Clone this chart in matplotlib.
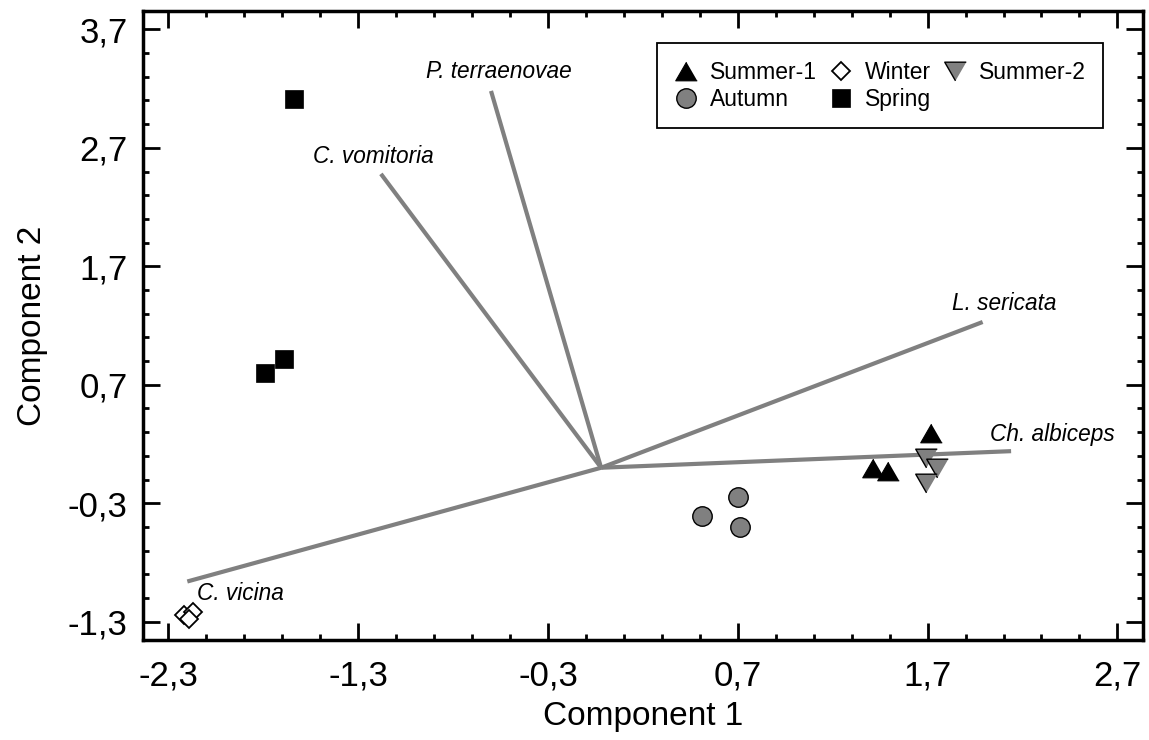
import matplotlib
matplotlib.use("Agg")
import matplotlib.pyplot as plt
import numpy as np
from matplotlib.ticker import FixedLocator

plt.rcParams["font.family"] = ["Liberation Sans", "DejaVu Sans"]

# sample scores per season
summer1_x = [1.72, 1.41, 1.49]
summer1_y = [0.29, 0.00, -0.03]
summer2_x = [1.69, 1.75, 1.69]
summer2_y = [0.08, -0.005, -0.13]
autumn_x = [0.70, 0.51, 0.71]
autumn_y = [-0.25, -0.41, -0.50]
winter_x = [-2.22, -2.17, -2.19]
winter_y = [-1.24, -1.22, -1.28]
spring_x = [-1.64, -1.69, -1.79]
spring_y = [3.11, 0.92, 0.80]

# species loadings (biplot vectors)
species = ["P. terraenovae", "C. vomitoria", "L. sericata", "Ch. albiceps", "C. vicina"]
origin = (-0.02, 0.0)
load_x = [-0.60, -1.18, 1.99, 2.14, -2.20]
load_y = [3.18, 2.48, 1.23, 0.14, -0.96]

# where the species names sit (left edge, middle)
label_x = [-0.94, -1.54, 1.83, 2.03, -2.15]
label_y = [3.34, 2.63, 1.39, 0.28, -1.06]

ticks = [-2.3, -1.3, -0.3, 0.7, 1.7, 2.7]
yticks = [-1.3, -0.3, 0.7, 1.7, 2.7, 3.7]

gray = "#808080"

fig = plt.figure(figsize=(11.49, 7.40), dpi=100)
ax = fig.add_axes([0.1242, 0.1351, 0.8706, 0.8504])

for sx, sy in zip(load_x, load_y):
    ax.plot([origin[0], sx], [origin[1], sy], color=gray, lw=3, zorder=1, solid_capstyle="butt")
for name, lx, ly in zip(species, label_x, label_y):
    ax.text(lx, ly, name, style="italic", fontsize=16.3, ha="left", va="center")

tri_up = [(0, 0.866), (-1, -0.866), (1, -0.866)]
tri_down = [(0, -0.866), (-1, 0.866), (1, 0.866)]

h_s1, = ax.plot(summer1_x, summer1_y, ls="none", marker=tri_up, ms=15.5, mfc="black", mec="black", mew=0.8, label="Summer-1")
h_au, = ax.plot(autumn_x, autumn_y, ls="none", marker="o", ms=14, mfc=gray, mec="black", mew=1, label="Autumn")
h_wi, = ax.plot(winter_x, winter_y, ls="none", marker="D", ms=9, mfc="white", mec="black", mew=1.3, label="Winter")
h_sp, = ax.plot(spring_x, spring_y, ls="none", marker="s", ms=13.5, mfc="black", mec="black", mew=0.5, label="Spring")
h_s2, = ax.plot(summer2_x, summer2_y, ls="none", marker=tri_down, ms=15.5, mfc=gray, mec="black", mew=1, label="Summer-2")

leg = ax.legend(handles=[h_s1, h_au, h_wi, h_sp, h_s2], ncol=3, loc="upper right",
                bbox_to_anchor=(0.960, 0.948), fontsize=16.5, frameon=True, fancybox=False,
                edgecolor="black", framealpha=1, handlelength=1.0, handletextpad=0.55,
                columnspacing=0.55, labelspacing=0.2, borderpad=0.75, borderaxespad=0)
leg.get_frame().set_linewidth(1.3)

ax.set_xlim(-2.435, 2.835)
ax.set_ylim(-1.454, 3.857)

ax.xaxis.set_major_locator(FixedLocator(ticks))
ax.yaxis.set_major_locator(FixedLocator(yticks))
ax.xaxis.set_minor_locator(FixedLocator(np.round(np.arange(-2.3, 2.8, 0.2), 2)))
ax.yaxis.set_minor_locator(FixedLocator(np.round(np.arange(-1.3, 3.8, 0.2), 2)))
ax.set_xticklabels([f"{t:.1f}".replace(".", ",") for t in ticks])
ax.set_yticklabels([f"{t:.1f}".replace(".", ",") for t in yticks])

ax.tick_params(which="both", direction="in", top=True, right=True, width=2, labelsize=25)
ax.tick_params(which="major", length=12)
ax.tick_params(axis="x", which="major", pad=14)
ax.tick_params(axis="y", which="major", pad=11)
ax.tick_params(which="minor", length=4.5)
for sp in ax.spines.values():
    sp.set_linewidth(2.5)

ax.set_xlabel("Component 1", fontsize=24, labelpad=6)
ax.set_ylabel("Component 2", fontsize=24, labelpad=14)

fig.savefig("out.png", dpi=100)
